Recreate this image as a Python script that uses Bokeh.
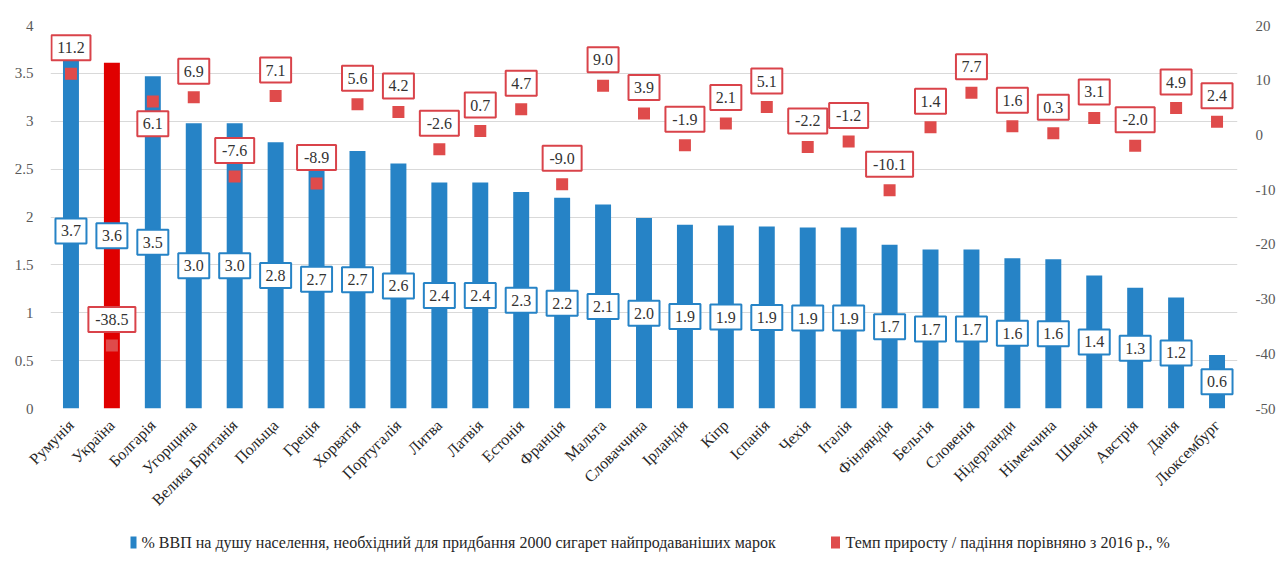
from math import pi

from bokeh.core.properties import value
from bokeh.embed import file_html
from bokeh.layouts import column
from bokeh.models import (ColumnDataSource, FixedTicker, LinearAxis,
                          NumeralTickFormatter, Range1d)
from bokeh.plotting import figure
from bokeh.resources import INLINE

# ---- data -------------------------------------------------------------
countries = [
    "Румунія", "Україна", "Болгарія", "Угорщина", "Велика Британія", "Польща",
    "Греція", "Хорватія", "Португалія", "Литва", "Латвія", "Естонія", "Франція",
    "Мальта", "Словаччина", "Ірландія", "Кіпр", "Іспанія", "Чехія", "Італія",
    "Фінляндія", "Бельгія", "Словенія", "Нідерланди", "Німеччина", "Швеція",
    "Австрія", "Данія", "Люксембург",
]

# % of GDP per capita needed to buy 2000 cigarettes of the best-selling brands
gdp_share = [
    3.71, 3.61, 3.47, 2.98, 2.98, 2.78, 2.70, 2.69, 2.56, 2.36, 2.36, 2.26, 2.20,
    2.13, 1.99, 1.92, 1.91, 1.90, 1.89, 1.89, 1.71, 1.66, 1.66, 1.57, 1.56, 1.39,
    1.26, 1.16, 0.56,
]

# growth / decline compared with 2016, %
growth = [
    11.2, -38.5, 6.1, 6.9, -7.6, 7.1, -8.9, 5.6, 4.2, -2.6, 0.7, 4.7, -9.0,
    9.0, 3.9, -1.9, 2.1, 5.1, -2.2, -1.2, -10.1, 1.4, 7.7, 1.6, 0.3, 3.1,
    -2.0, 4.9, 2.4,
]

left_ticks = [0, 0.5, 1, 1.5, 2, 2.5, 3, 3.5, 4]
right_ticks = [-50, -40, -30, -20, -10, 0, 10, 20]

share_label = "% ВВП на душу населення, необхідний для придбання 2000 сигарет найпродаваніших марок"
growth_label = "Темп приросту / падіння порівняно з 2016 р., %"

# ---- styling ----------------------------------------------------------
BAR_BLUE = "#2683C6"
HIGHLIGHT_RED = "#E00000"
MARK_RED = "#DF4B4B"
BOX_RED = "#D9434A"
GRID = "#D9D9D9"
SERIF = "'Liberation Serif'"

W = 1280
H_MAIN, H_LEGEND = 520, 45
BORDER_L, BORDER_R, BORDER_T, BORDER_B = 50, 43, 25, 112
LEFT_RANGE = (0, 4)
RIGHT_RANGE = (-50, 20)

# pixels per unit of the right-hand axis, used to float the growth labels
frame_h = H_MAIN - BORDER_T - BORDER_B
px_per_pct = frame_h / (RIGHT_RANGE[1] - RIGHT_RANGE[0])
label_gap_px = 26


def box_width(txt):
    return 8 * len(txt) + 7


share_txt = [f"{v:.1f}" for v in gdp_share]
growth_txt = [f"{v:.1f}" for v in growth]
# growth labels sit above their marker, except where they would hit a bar top
growth_dir = [-0.85 if c == "Болгарія" else 1 for c in countries]

src = ColumnDataSource(dict(
    country=countries,
    share=gdp_share,
    share_mid=[v / 2 for v in gdp_share],
    share_txt=share_txt,
    share_w=[box_width(t) for t in share_txt],
    growth=growth,
    growth_txt=growth_txt,
    growth_w=[box_width(t) for t in growth_txt],
    growth_lbl_y=[g + d * label_gap_px / px_per_pct for g, d in zip(growth, growth_dir)],
    bar_color=[HIGHLIGHT_RED if c == "Україна" else BAR_BLUE for c in countries],
))

p = figure(
    x_range=countries, y_range=Range1d(*LEFT_RANGE),
    width=W, height=H_MAIN,
    output_backend="svg", toolbar_location=None,
    min_border_left=BORDER_L, min_border_right=BORDER_R,
    min_border_top=BORDER_T, min_border_bottom=BORDER_B,
    outline_line_color=None, background_fill_color="white", border_fill_color="white",
)
p.extra_y_ranges = {"pct": Range1d(*RIGHT_RANGE)}

# grid
p.xgrid.grid_line_color = None
p.ygrid.ticker = FixedTicker(ticks=left_ticks)
p.ygrid.grid_line_color = GRID
p.ygrid.grid_line_width = 1

# axes
for ax in (p.xaxis[0], p.yaxis[0]):
    ax.axis_line_color = None
    ax.major_tick_line_color = None
    ax.minor_tick_line_color = None
    ax.major_label_text_font = SERIF

p.yaxis.ticker = FixedTicker(ticks=left_ticks)
p.yaxis.formatter = NumeralTickFormatter(format="0.[0]")
p.yaxis.major_label_text_font_size = "15px"
p.yaxis.major_label_text_color = "#595959"
p.yaxis.major_label_standoff = 11

p.xaxis.major_label_orientation = pi / 4
p.xaxis.major_label_text_font_size = "16px"
p.xaxis.major_label_text_color = "#262626"
p.xaxis.major_label_standoff = 8
p.x_range.range_padding = 0

right = LinearAxis(y_range_name="pct", ticker=FixedTicker(ticks=right_ticks))
right.axis_line_color = None
right.major_tick_line_color = None
right.minor_tick_line_color = None
right.major_label_overrides = {t: str(t) for t in right_ticks}
right.major_label_text_font = SERIF
right.major_label_text_font_size = "15px"
right.major_label_text_color = "#595959"
right.major_label_standoff = 12
p.add_layout(right, "right")

# bars and growth markers
p.vbar(x="country", top="share", width=0.39, source=src,
       fill_color="bar_color", line_color=None)
p.rect(x="country", y="growth", width=12, height=12,
       width_units="screen", height_units="screen",
       y_range_name="pct", source=src,
       fill_color=MARK_RED, line_color=None)

# boxed value labels in the middle of each bar
p.rect(x="country", y="share_mid", width="share_w", height=25,
       width_units="screen", height_units="screen", source=src,
       fill_color="white", line_color=BAR_BLUE, line_width=2)
p.text(x="country", y="share_mid", text="share_txt", source=src,
       text_align="center", text_baseline="middle",
       text_font=value(SERIF), text_font_size="16px", text_color="#333333")

# boxed growth labels next to each marker
p.rect(x="country", y="growth_lbl_y", width="growth_w", height=25,
       width_units="screen", height_units="screen", source=src, y_range_name="pct",
       fill_color="white", line_color=BOX_RED, line_width=2)
p.text(x="country", y="growth_lbl_y", text="growth_txt", source=src, y_range_name="pct",
       text_align="center", text_baseline="middle",
       text_font=value(SERIF), text_font_size="16px", text_color="#333333")

# ---- legend strip under the chart ------------------------------------
# x coordinates of this strip are canvas pixels (its frame lines up with the chart's)
leg = figure(
    x_range=Range1d(BORDER_L, W - BORDER_R), y_range=Range1d(0, H_LEGEND),
    width=W, height=H_LEGEND,
    output_backend="svg", toolbar_location=None,
    min_border=0, min_border_left=BORDER_L, min_border_right=BORDER_R,
    outline_line_color=None,
    background_fill_color="white", border_fill_color="white",
)
leg.axis.visible = False
leg.grid.visible = False

legend_src = ColumnDataSource(dict(
    swatch_x=[133, 835],
    text_x=[141, 845],
    y=[H_LEGEND - 22] * 2,
    swatch_w=[6, 9],
    color=[BAR_BLUE, MARK_RED],
    label=[share_label, growth_label],
))
leg.rect(x="swatch_x", y="y", width="swatch_w", height=12, source=legend_src,
         width_units="screen", height_units="screen",
         fill_color="color", line_color=None)
leg.text(x="text_x", y="y", text="label", source=legend_src,
         text_align="left", text_baseline="middle",
         text_font=value(SERIF), text_font_size="16px", text_color="#262626")

page = column(p, leg, spacing=0)

open("out.html", "w").write(file_html(page, INLINE))
